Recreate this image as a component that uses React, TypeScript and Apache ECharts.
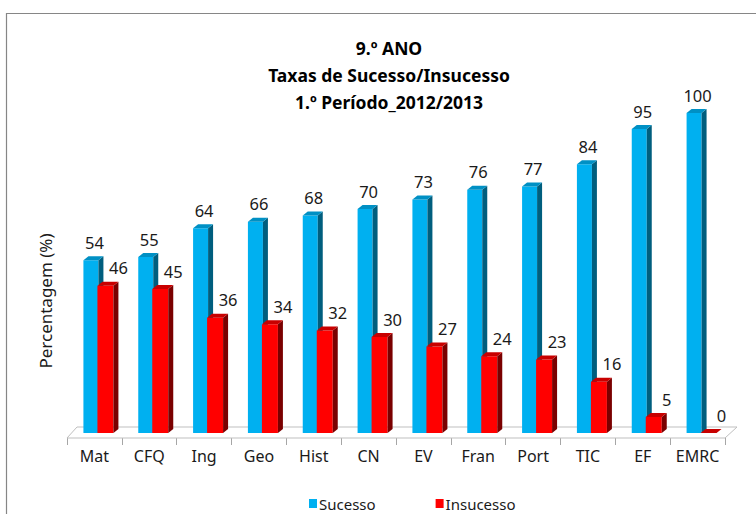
import React, { useEffect, useRef } from "react";
import * as echarts from "echarts";

const categories = ["Mat", "CFQ", "Ing", "Geo", "Hist", "CN", "EV", "Fran", "Port", "TIC", "EF", "EMRC"];
const sucesso = [54, 55, 64, 66, 68, 70, 73, 76, 77, 84, 95, 100];
const insucesso = [46, 45, 36, 34, 32, 30, 27, 24, 23, 16, 5, 0];
const titleLines = ["9.º ANO", "Taxas de Sucesso/Insucesso", "1.º Período_2012/2013"];
const yAxisTitle = "Percentagem (%)";

const FONT = "'Noto Sans', 'Open Sans', sans-serif";

type Colors = { front: string; side: string; top: string };

function makeBarRender(offsetL: number, width: number, colors: Colors, labelDx: number, labelDy: number) {
  return (params: any, api: any) => {
    const idx = api.value(0);
    const v = api.value(1);
    const base = api.coord([idx, 0]);
    const top = api.coord([idx, v]);
    const c = base[0];
    const lift = 5;
    const dx = 5;
    const dy = 4;
    const x0 = c + offsetL;
    const x1 = x0 + width;
    const yb = base[1] - lift;
    const yt = top[1] - lift;
    return {
      type: "group",
      children: [
        {
          type: "polygon",
          shape: { points: [[x0, yt], [x1, yt], [x1, yb], [x0, yb]] },
          style: { fill: colors.front },
        },
        {
          type: "polygon",
          shape: { points: [[x1, yt], [x1 + dx, yt - dy], [x1 + dx, yb - dy], [x1, yb]] },
          style: { fill: colors.side },
        },
        {
          type: "polygon",
          shape: { points: [[x0, yt], [x0 + dx, yt - dy], [x1 + dx, yt - dy], [x1, yt]] },
          style: { fill: colors.top },
        },
        {
          type: "text",
          x: c + labelDx,
          y: yt + labelDy,
          style: {
            text: String(v),
            fill: "#1a1a1a",
            font: `16.5px ${FONT}`,
            align: "center",
            verticalAlign: "middle",
          },
        },
      ],
    };
  };
}

export default function App() {
  const ref = useRef<HTMLDivElement>(null);

  useEffect(() => {
    if (!ref.current) return;
    const chart = echarts.init(ref.current, null, { renderer: "svg" });
    const blue: Colors = { front: "#00B0F0", side: "#005E7E", top: "#0090C4" };
    const red: Colors = { front: "#FF0000", side: "#7A0000", top: "#C80000" };

    chart.setOption({
      animation: false,
      backgroundColor: "#ffffff",
      title: {
        text: titleLines.join("\n"),
        left: 384,
        top: 29,
        textAlign: "center",
        textStyle: {
          fontFamily: FONT,
          fontWeight: "bold",
          fontSize: 17.5,
          lineHeight: 27,
          color: "#000",
        },
      },
      legend: {
        data: ["Sucesso", "Insucesso"],
        left: 304,
        top: 491,
        icon: "rect",
        itemWidth: 8,
        itemHeight: 9,
        itemGap: 60,
        textStyle: { fontFamily: FONT, fontSize: 15, color: "#1a1a1a", padding: [0, 0, 0, -3] },
      },
      grid: { left: 67, right: 31, top: 118, bottom: 76 },
      xAxis: {
        type: "category",
        data: categories,
        axisLine: { show: false },
        axisTick: { show: true, interval: 0, length: 7, lineStyle: { color: "#A6A6A6" } },
        axisLabel: { interval: 0, fontFamily: FONT, fontSize: 16, color: "#1a1a1a", margin: 10 },
      },
      yAxis: { type: "value", min: 0, max: 100, show: false },
      graphic: [
        {
          type: "rect",
          shape: { x: 6.5, y: 13.5, width: 800, height: 600 },
          style: { fill: "none", stroke: "#868686", lineWidth: 1.2 },
          silent: true,
          z: -10,
        },
        {
          type: "text",
          x: 45,
          y: 301,
          rotation: Math.PI / 2,
          style: {
            text: yAxisTitle,
            font: `17px ${FONT}`,
            fill: "#1a1a1a",
            align: "center",
            verticalAlign: "middle",
          },
        },
      ],
      series: [
        {
          type: "custom",
          name: "floor",
          silent: true,
          data: [[0, 0]],
          encode: { x: 0, y: 1 },
          renderItem: (params: any, api: any) => {
            const p = api.coord([0, 0]);
            const bw = api.size([1, 0])[0];
            const xL = p[0] - bw / 2;
            const xR = xL + categories.length * bw;
            const y = p[1];
            return {
              type: "polygon",
              shape: { points: [[xL, y], [xR, y], [xR + 12, y - 11], [xL + 10, y - 11]] },
              style: { fill: "none", stroke: "#BFBFBF", lineWidth: 1 },
            };
          },
        },
        {
          type: "custom",
          name: "Sucesso",
          itemStyle: { color: blue.front },
          data: sucesso.map((v, i) => [i, v]),
          encode: { x: 0, y: 1 },
          renderItem: makeBarRender(-11, 15, blue, 0, -18),
        },
        {
          type: "custom",
          name: "Insucesso",
          itemStyle: { color: red.front },
          data: insucesso.map((v, i) => [i, v]),
          encode: { x: 0, y: 1 },
          renderItem: makeBarRender(3, 16, red, 24, -18),
        },
      ],
    });
    return () => chart.dispose();
  }, []);

  return (
    <div
      ref={ref}
      style={{ position: "absolute", left: 0, top: 0, width: 756, height: 514 }}
    />
  );
}
